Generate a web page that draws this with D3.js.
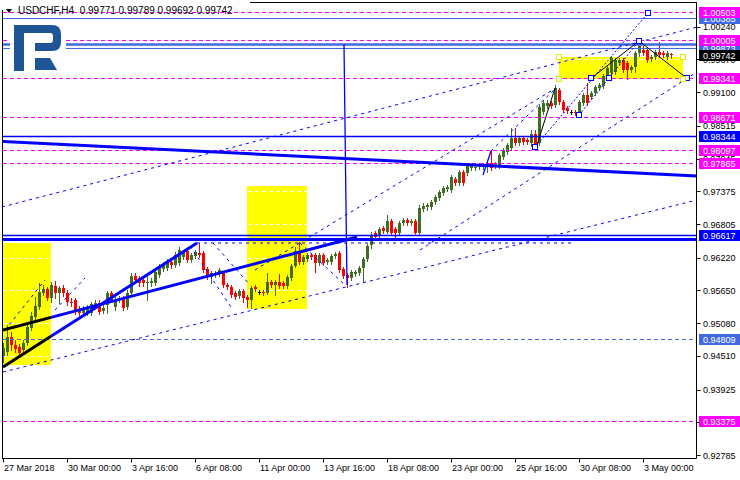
<!DOCTYPE html>
<html>
<head>
<meta charset="utf-8">
<script src="https://cdn.jsdelivr.net/npm/d3@7"></script>
<style>
  body { margin: 0; background: #fff; }
  svg { display: block; font-family: "Liberation Sans", Arial, sans-serif; }
</style>
</head>
<body>
<svg width="740" height="480"></svg>
<script>
// USDCHF H4 candles, [open, high, low, close]
var candles = [
  [0.94509,0.94735,0.94404,0.94648],[0.94578,0.95048,0.94526,0.94839],[0.94839,0.94926,0.94613,0.94700],[0.94700,0.94787,0.94578,0.94630],
  [0.94665,0.94717,0.94491,0.94561],[0.94613,0.94787,0.94561,0.94735],[0.94735,0.95083,0.94700,0.95013],[0.94996,0.95274,0.94961,0.95205],
  [0.95187,0.95535,0.95135,0.95379],[0.95361,0.95779,0.95326,0.95622],[0.95605,0.95744,0.95570,0.95674],[0.95674,0.95709,0.95483,0.95518],
  [0.95518,0.95796,0.95448,0.95744],[0.95726,0.95813,0.95518,0.95605],[0.95605,0.95726,0.95431,0.95692],[0.95692,0.95744,0.95553,0.95605],
  [0.95605,0.95657,0.95396,0.95448],[0.95448,0.95518,0.95379,0.95431],[0.95483,0.95518,0.95239,0.95274],[0.95326,0.95379,0.95222,0.95257],
  [0.95257,0.95379,0.95222,0.95326],[0.95257,0.95396,0.95222,0.95344],[0.95257,0.95448,0.95222,0.95413],[0.95396,0.95483,0.95361,0.95431],
  [0.95431,0.95483,0.95239,0.95274],[0.95291,0.95396,0.95257,0.95344],[0.95396,0.95639,0.95257,0.95605],[0.95605,0.95639,0.95448,0.95483],
  [0.95361,0.95535,0.95309,0.95483],[0.95483,0.95553,0.95448,0.95518],[0.95518,0.95553,0.95309,0.95344],[0.95361,0.95657,0.95326,0.95605],
  [0.95605,0.95953,0.95570,0.95900],[0.95900,0.95953,0.95779,0.95831],[0.95866,0.95900,0.95726,0.95779],[0.95831,0.95866,0.95726,0.95779],
  [0.95779,0.95953,0.95483,0.95796],[0.95779,0.95866,0.95726,0.95813],[0.95779,0.96005,0.95744,0.95970],[0.95918,0.96109,0.95883,0.96057],
  [0.96022,0.96144,0.95988,0.96092],[0.96040,0.96196,0.96005,0.96144],[0.96144,0.96196,0.96040,0.96092],[0.96092,0.96318,0.96057,0.96266],
  [0.96127,0.96405,0.96092,0.96353],[0.96231,0.96353,0.96196,0.96318],[0.96336,0.96388,0.96144,0.96179],[0.96179,0.96301,0.96144,0.96266],
  [0.96249,0.96353,0.96214,0.96318],[0.96301,0.96475,0.96231,0.96266],[0.96301,0.96336,0.95970,0.96005],[0.96022,0.96057,0.95848,0.95883],
  [0.95883,0.95988,0.95779,0.95953],[0.95918,0.95988,0.95883,0.95953],[0.95935,0.96040,0.95900,0.96005],[0.95953,0.95988,0.95709,0.95744],
  [0.95744,0.95779,0.95674,0.95709],[0.95709,0.95744,0.95535,0.95570],[0.95605,0.95639,0.95500,0.95535],[0.95553,0.95674,0.95518,0.95639],
  [0.95639,0.95674,0.95448,0.95518],[0.95535,0.95570,0.95361,0.95483],[0.95483,0.95726,0.95344,0.95692],[0.95709,0.95744,0.95639,0.95674],
  [0.95622,0.95657,0.95587,0.95622],[0.95622,0.95657,0.95570,0.95605],[0.95605,0.95953,0.95587,0.95796],[0.95796,0.95831,0.95709,0.95744],
  [0.95744,0.95831,0.95570,0.95796],[0.95796,0.95935,0.95692,0.95726],[0.95779,0.95813,0.95692,0.95726],[0.95726,0.95918,0.95692,0.95883],
  [0.95866,0.96109,0.95831,0.96075],[0.96075,0.96405,0.96057,0.96336],[0.96336,0.96492,0.96109,0.96144],[0.96144,0.96266,0.96109,0.96231],
  [0.96196,0.96301,0.96162,0.96266],[0.96266,0.96301,0.96196,0.96231],[0.96266,0.96301,0.95970,0.96127],[0.96127,0.96301,0.96092,0.96266],
  [0.96266,0.96301,0.96092,0.96127],[0.96144,0.96214,0.96109,0.96179],[0.96144,0.96283,0.96109,0.96249],[0.96249,0.96318,0.96214,0.96283],
  [0.96301,0.96336,0.95970,0.96005],[0.96022,0.96057,0.95866,0.95900],[0.95918,0.95953,0.95709,0.95866],[0.95866,0.96005,0.95831,0.95970],
  [0.95935,0.96005,0.95900,0.95970],[0.95953,0.96075,0.95918,0.96040],[0.96040,0.96231,0.95796,0.96196],[0.96196,0.96457,0.96162,0.96423],
  [0.96440,0.96666,0.96388,0.96597],[0.96649,0.96684,0.96527,0.96579],[0.96614,0.96754,0.96579,0.96719],[0.96736,0.96771,0.96649,0.96684],
  [0.96666,0.96963,0.96649,0.96858],[0.96858,0.96893,0.96614,0.96649],[0.96719,0.96754,0.96527,0.96649],[0.96649,0.96858,0.96614,0.96824],
  [0.96824,0.96910,0.96789,0.96876],[0.96876,0.96910,0.96789,0.96824],[0.96824,0.96893,0.96789,0.96858],[0.96858,0.96893,0.96614,0.96649],
  [0.96649,0.97137,0.96614,0.97085],[0.97067,0.97172,0.97032,0.97120],[0.97102,0.97172,0.97050,0.97137],[0.97102,0.97224,0.97067,0.97189],
  [0.97189,0.97311,0.97154,0.97276],[0.97259,0.97398,0.97224,0.97363],[0.97346,0.97468,0.97311,0.97433],[0.97415,0.97485,0.97381,0.97450],
  [0.97398,0.97659,0.97363,0.97624],[0.97589,0.97624,0.97485,0.97520],[0.97520,0.97746,0.97485,0.97711],[0.97711,0.97746,0.97485,0.97520],
  [0.97694,0.97868,0.97659,0.97833],[0.97781,0.97850,0.97746,0.97816],[0.97781,0.97833,0.97746,0.97798],[0.97798,0.97850,0.97763,0.97816],
  [0.97798,0.97868,0.97763,0.97833],[0.97798,0.97902,0.97711,0.97868],[0.97868,0.98094,0.97746,0.97781],[0.97816,0.97885,0.97781,0.97850],
  [0.97816,0.98042,0.97781,0.98007],[0.97972,0.98129,0.97937,0.98094],[0.98059,0.98216,0.98024,0.98181],[0.98129,0.98477,0.98094,0.98303],
  [0.98303,0.98477,0.98181,0.98216],[0.98216,0.98338,0.98181,0.98303],[0.98303,0.98338,0.98198,0.98233],[0.98268,0.98303,0.98198,0.98233],
  [0.98216,0.98442,0.98164,0.98372],[0.98372,0.98442,0.98129,0.98181],[0.98216,0.98894,0.98181,0.98842],[0.98755,0.98964,0.98720,0.98912],
  [0.98860,0.98964,0.98825,0.98912],[0.98912,0.98947,0.98825,0.98860],[0.98877,0.99225,0.98842,0.99173],[0.99138,0.99173,0.98894,0.98929],
  [0.98929,0.98964,0.98755,0.98790],[0.98825,0.98860,0.98738,0.98773],[0.98755,0.98790,0.98720,0.98755],[0.98755,0.98790,0.98703,0.98738],
  [0.98738,0.98964,0.98703,0.98929],[0.98912,0.99086,0.98877,0.99051],[0.99051,0.99260,0.98877,0.98912],[0.99016,0.99121,0.98981,0.99086],
  [0.99086,0.99225,0.99051,0.99190],[0.99173,0.99260,0.99138,0.99225],[0.99208,0.99417,0.99173,0.99382],[0.99365,0.99556,0.99330,0.99522],
  [0.99435,0.99730,0.99400,0.99696],[0.99452,0.99696,0.99417,0.99661],[0.99609,0.99696,0.99574,0.99661],[0.99661,0.99696,0.99452,0.99487],
  [0.99609,0.99643,0.99330,0.99487],[0.99487,0.99574,0.99452,0.99539],[0.99539,0.99817,0.99452,0.99783],[0.99783,1.00009,0.99730,0.99957],
  [0.99835,0.99904,0.99748,0.99783],[0.99835,0.99870,0.99626,0.99661],[0.99678,0.99748,0.99643,0.99713],[0.99713,0.99835,0.99678,0.99800],
  [0.99800,0.99974,0.99713,0.99748],[0.99783,0.99817,0.99713,0.99748],[0.99713,0.99817,0.99678,0.99783],[0.99771,0.99789,0.99692,0.99742]
];

var title = "USDCHF,H4  0.99771 0.99789 0.99692 0.99742";

var timeTicks = [0, 16, 32, 48, 64, 80, 96, 112, 128, 144, 160];
var timeLabels = ["27 Mar 2018", "30 Mar 00:00", "3 Apr 16:00", "6 Apr 08:00", "11 Apr 00:00", "13 Apr 16:00",
  "18 Apr 08:00", "23 Apr 00:00", "25 Apr 16:00", "30 Apr 08:00", "3 May 00:00"];

var priceTicks = [1.00240, 0.99670, 0.99100, 0.98515, 0.97945, 0.97375, 0.96805, 0.96220,
  0.95650, 0.95080, 0.94510, 0.93925, 0.93355, 0.92785];

// horizontal levels
var magentaLevels = [1.00503, 1.00005, 0.99341, 0.98671, 0.98097, 0.97865, 0.93375];
var royalLevels = [1.00385, 0.99873];
var royalThick = [0.99930];
var blueLevels = [0.98344, 0.96617];
var blueThick = [0.96536];
var royalDashed = [0.94809];
var lastPrice = 0.99742;

// rectangles [fromBar, toBar, topPrice, bottomPrice]
var boxes = [[0, 12, 0.96475, 0.94352], [61, 76, 0.97468, 0.95326], [139, 170, 0.99713, 0.99330]];

// trend lines [bar1, price1, bar2, price2]
var dashedLines = [
  [-0.25, 0.97102, 173.5, 1.00235],
  [0, 0.94230, 173.5, 0.97224],
  [63, 0.96005, 138.25, 0.99173],
  [104.25, 0.96353, 173.5, 0.99452],
  [48.5, 0.96475, 142.25, 0.96475],
  [122, 0.98077, 138.25, 0.99173],
  [0.5, 0.94961, 10.5, 0.95831],
  [13, 0.95309, 20.5, 0.95866],
  [46.75, 0.96423, 57.5, 0.95309],
  [52.5, 0.96475, 61.75, 0.95744],
  [74.25, 0.96475, 85.5, 0.95744]
];
var dottedLines = [
  [133, 0.98146, 161.25, 1.00480],
  [144, 0.98703, 159, 0.99991]
];
var thickBlue = [
  [12, 0.95180, 88.5, 0.96580],
  [12, 0.94851, 48.5, 0.96475],
  [-0.25, 0.98242, 173.5, 0.97641]
];
var thickBlack = [
  [0, 0.94961, 12, 0.95180],
  [0, 0.94317, 12, 0.94851]
];
var thinBlue = [
  [120, 0.97659, 122, 0.98077],
  [85.25, 0.99930, 86, 0.95744]
];
var blackLines = [
  [147, 0.99341, 159, 0.99991],
  [159, 0.99991, 171, 0.99341],
  [133.5, 0.98181, 138, 0.99173]
];
var anchors = [[133, 0.98146], [144, 0.98703], [147, 0.99341], [151.5, 0.99341],
  [159, 0.99991], [161.25, 1.00480], [171, 0.99341]];

var svg = d3.select("svg"),
  width = +svg.attr("width"),
  height = +svg.attr("height");

var right = 696.5, bottom = 458.5;

var x = d3.scaleLinear().domain([0, 167]).range([3, 671]);
var y = d3.scaleLinear().domain([0.92785, 1.00240]).range([455, 26.7]);

function py(v) { return Math.round(y(v)) + 0.5; }

svg.append("defs").append("clipPath").attr("id", "plot")
  .append("rect").attr("x", 3).attr("y", 3).attr("width", right - 3).attr("height", bottom - 3);

var plot = svg.append("g").attr("clip-path", "url(#plot)");

// yellow rectangles
plot.append("g").selectAll("rect")
  .data(boxes).enter().append("rect")
  .attr("x", function(d) { return Math.round(x(d[0])); })
  .attr("width", function(d) { return Math.round(x(d[1]) - x(d[0])); })
  .attr("y", function(d) { return Math.round(y(d[2])); })
  .attr("height", function(d) { return Math.round(y(d[3]) - y(d[2])); })
  .attr("fill", "#ffff00");

// white grid (only shows on yellow)
plot.append("g").selectAll("line")
  .data(priceTicks).enter().append("line")
  .attr("x1", 3).attr("x2", right)
  .attr("y1", py).attr("y2", py)
  .attr("stroke", "#fff").attr("stroke-dasharray", "4,3");

function hlines(data, color, w, dash) {
  plot.append("g").selectAll("line")
    .data(data).enter().append("line")
    .attr("x1", 3).attr("x2", right)
    .attr("y1", function(d) { return w > 1.5 ? y(d) : py(d); })
    .attr("y2", function(d) { return w > 1.5 ? y(d) : py(d); })
    .attr("stroke", color).attr("stroke-width", w)
    .attr("stroke-dasharray", dash || null);
}

function segs(data, color, w, dash) {
  plot.append("g").selectAll("line")
    .data(data).enter().append("line")
    .attr("x1", function(d) { return x(d[0]); })
    .attr("y1", function(d) { return y(d[1]); })
    .attr("x2", function(d) { return x(d[2]); })
    .attr("y2", function(d) { return y(d[3]); })
    .attr("stroke", color).attr("stroke-width", w)
    .attr("stroke-dasharray", dash || null);
}

// candles
var up = "#3f6e22", down = "#ff0000";
function ccol(d) { return d[3] > d[0] ? up : (d[3] < d[0] ? down : "#000"); }

var cg = plot.append("g").selectAll("g")
  .data(candles).enter().append("g");

cg.append("line")
  .attr("x1", function(d, i) { return Math.round(x(i)) + 0.5; })
  .attr("x2", function(d, i) { return Math.round(x(i)) + 0.5; })
  .attr("y1", function(d) { return Math.round(y(d[1])); })
  .attr("y2", function(d) { return Math.round(y(d[2])) + 1; })
  .attr("stroke", ccol);

cg.append("rect")
  .attr("x", function(d, i) { return Math.round(x(i)) - 1; })
  .attr("width", 3)
  .attr("y", function(d) { return Math.round(y(Math.max(d[0], d[3]))); })
  .attr("height", function(d) { return Math.max(1, Math.round(y(Math.min(d[0], d[3]))) - Math.round(y(Math.max(d[0], d[3])))); })
  .attr("fill", ccol);

// levels
hlines(magentaLevels, "#ff00ff", 1, "4,3");
hlines(royalDashed, "#4169e1", 1, "4,3");
hlines(royalLevels, "#4169e1", 1);
hlines(royalThick, "#4169e1", 2.5);
hlines(blueLevels, "#0000ff", 1.3);
hlines(blueThick, "#0000ff", 3);

// drawings
segs(dashedLines, "#0000ff", 1, "3,4");
segs(dottedLines, "#0000ff", 1, "2,2");
segs(thickBlue, "#0000ff", 3);
segs(thickBlack, "#000", 3);
segs(thinBlue, "#0000ff", 1.3);
segs(blackLines, "#000", 1);

plot.append("g").selectAll("rect")
  .data(anchors).enter().append("rect")
  .attr("x", function(d) { return Math.round(x(d[0])) - 2.5; })
  .attr("y", function(d) { return Math.round(y(d[1])) - 2.5; })
  .attr("width", 5).attr("height", 5)
  .attr("fill", "#fff").attr("stroke", "#0000ff");

// handles of the last rectangle
var last = boxes[2];
plot.append("g").selectAll("rect")
  .data([[last[0], last[2]], [last[1], last[2]], [last[0], last[3]], [last[1], last[3]]])
  .enter().append("rect")
  .attr("x", function(d) { return Math.round(x(d[0])) - 2.5; })
  .attr("y", function(d) { return Math.round(y(d[1])) - 2.5; })
  .attr("width", 5).attr("height", 5)
  .attr("fill", "#fff").attr("stroke", "#e6e600");

// logo
var logo = svg.append("g");
logo.append("rect").attr("x", 10).attr("y", 21).attr("width", 56).attr("height", 54).attr("fill", "#fff");
logo.append("path")
  .attr("d", "M14,25 H52 Q61,25 61,34 V42 Q61,51 52,51 H35 V43 H50 Q53,43 53,40 V36 Q53,33 50,33 H24 V71 H14 Z")
  .attr("fill", "#1d5597");
logo.append("path")
  .attr("d", "M35,58 H50 L57,70 H35 Z")
  .attr("fill", "#1d5597");

// frame
svg.append("line").attr("x1", 2.5).attr("x2", 2.5).attr("y1", 10).attr("y2", bottom).attr("stroke", "#000");
svg.append("line").attr("x1", 250).attr("x2", right).attr("y1", 2.5).attr("y2", 2.5).attr("stroke", "#000");
svg.append("line").attr("x1", right).attr("x2", right).attr("y1", 2).attr("y2", bottom).attr("stroke", "#000");
svg.append("line").attr("x1", 2).attr("x2", right).attr("y1", bottom).attr("y2", bottom).attr("stroke", "#000");

// title
svg.append("path").attr("d", "M6,9 L12,9 L9,13 Z").attr("fill", "#000");
svg.append("text").attr("x", 18).attr("y", 14)
  .attr("font-size", 10).attr("fill", "#000")
  .style("white-space", "pre")
  .text(title);

// time axis
var tx = svg.append("g");
tx.selectAll("line").data(timeTicks).enter().append("line")
  .attr("x1", function(d) { return Math.round(x(d)) + 0.5; })
  .attr("x2", function(d) { return Math.round(x(d)) + 0.5; })
  .attr("y1", bottom).attr("y2", bottom + 4)
  .attr("stroke", "#000");
tx.selectAll("text").data(timeTicks).enter().append("text")
  .attr("x", function(d) { return Math.round(x(d)) + 1; })
  .attr("y", 471)
  .attr("font-size", 9).attr("fill", "#000")
  .text(function(d, i) { return timeLabels[i]; });

// price axis
var ax = svg.append("g");
ax.selectAll("line").data(priceTicks).enter().append("line")
  .attr("x1", right).attr("x2", right + 4)
  .attr("y1", py).attr("y2", py)
  .attr("stroke", "#000");
ax.selectAll("text").data(priceTicks).enter().append("text")
  .attr("x", 703).attr("y", function(d) { return y(d) + 3.5; })
  .attr("font-size", 9).attr("fill", "#000")
  .text(function(d) { return d.toFixed(5); });

function tags(data, color) {
  var g = svg.append("g").selectAll("g").data(data).enter().append("g");
  g.append("rect")
    .attr("x", 699).attr("width", 41)
    .attr("y", function(d) { return Math.round(y(d)) - 5; })
    .attr("height", 11)
    .attr("fill", color);
  g.append("text")
    .attr("x", 703).attr("y", function(d) { return Math.round(y(d)) + 4; })
    .attr("font-size", 9).attr("fill", "#fff")
    .text(function(d) { return d.toFixed(5); });
}

tags(royalLevels.concat(royalDashed), "#4169e1");
tags(blueLevels, "#0000ff");
tags(magentaLevels, "#ff00ff");
tags([lastPrice], "#000");
</script>
</body>
</html>
